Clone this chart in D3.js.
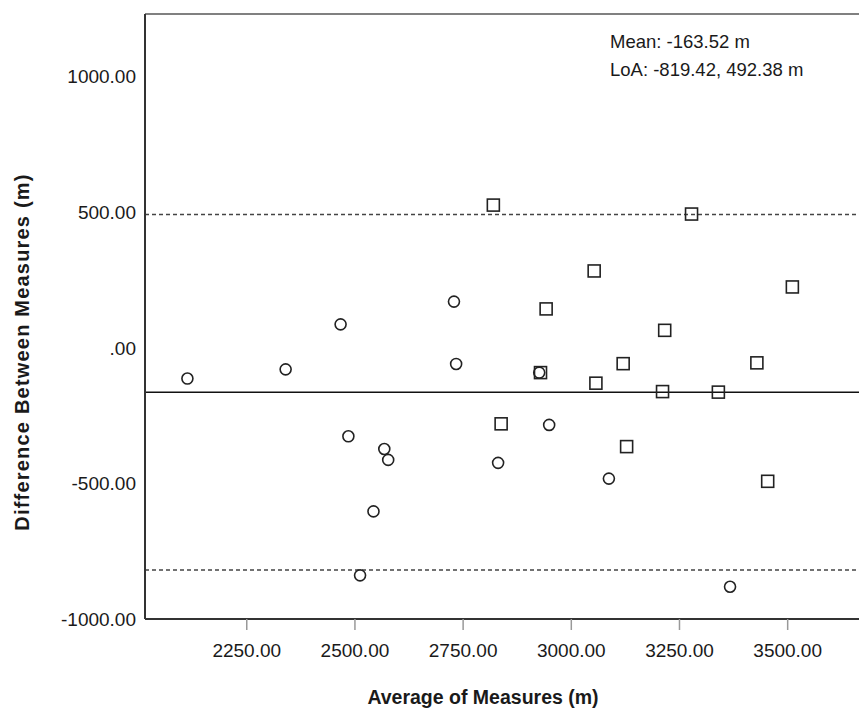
<!DOCTYPE html>
<html>
<head>
<meta charset="utf-8">
<script src="https://cdn.jsdelivr.net/npm/d3@7"></script>
<style>
  html, body { margin: 0; padding: 0; background: #fff; }
  svg { display: block; }
  text { font-family: "Liberation Sans", Arial, sans-serif; fill: #1a1a1a; }
</style>
</head>
<body>
<svg id="chart" width="859" height="717"></svg>
<script>
// ---- data ----
const circleAvg  = [2114, 2341, 2468, 2486, 2569, 2578, 2544, 2513, 2730, 2735, 2927, 2950, 2832, 3088, 3368];
const circleDiff = [-113, -79, 87, -326, -373, -413, -603, -839, 171, -59, -91, -284, -424, -482, -881];
const squareAvg  = [2821, 3279, 3054, 3512, 2943, 3217, 3121, 3430, 2930, 3058, 3212, 3341, 2839, 3129, 3455];
const squareDiff = [527, 494, 284, 225, 144, 65, -58, -55, -91, -130, -161, -163, -280, -364, -492];
const meanDiff = -163.52;
const loaLower = -819.42;
const loaUpper = 492.38;
const xTicks = [2250, 2500, 2750, 3000, 3250, 3500];
const xTickLabels = ["2250.00", "2500.00", "2750.00", "3000.00", "3250.00", "3500.00"];
const yTicks = [1000, 500, 0, -500, -1000];
const yTickLabels = ["1000.00", "500.00", ".00", "-500.00", "-1000.00"];
const annotation = ["Mean: -163.52 m", "LoA: -819.42, 492.38 m"];
const xTitle = "Average of Measures (m)";
const yTitle = "Difference Between Measures (m)";

// ---- layout ----
const svg = d3.select("#chart");
const L = 145, R = 859, T = 14, B = 619;
const x = d3.scaleLinear().domain([2016, 3666]).range([L, R]);
const y = d3.scaleLinear().domain([-1000, 1232]).range([B, T]);

// top border
svg.append("line").attr("x1", L).attr("x2", R).attr("y1", T).attr("y2", T)
  .attr("stroke", "#808080").attr("stroke-width", 2);

// reference lines
[loaUpper, loaLower].forEach(v => {
  svg.append("line").attr("x1", L).attr("x2", R).attr("y1", y(v)).attr("y2", y(v))
    .attr("stroke", "#444").attr("stroke-width", 1.5).attr("stroke-dasharray", "4,3");
});
svg.append("line").attr("x1", L).attr("x2", R).attr("y1", y(meanDiff)).attr("y2", y(meanDiff))
  .attr("stroke", "#111").attr("stroke-width", 1.6);

// x axis
const xAxis = d3.axisBottom(x).tickValues(xTicks).tickFormat((d, i) => xTickLabels[i])
  .tickSize(11).tickPadding(14);
const gx = svg.append("g").attr("transform", `translate(0,${B})`).call(xAxis);
gx.select(".domain").attr("stroke", "#333").attr("stroke-width", 2).attr("d", `M${L},0H${R}`);
gx.selectAll(".tick line").attr("stroke", "#999").attr("stroke-width", 1.5);
gx.selectAll(".tick text").style("font-size", "19px").attr("fill", "#1a1a1a")
  .style("font-family", '"Liberation Sans", Arial, sans-serif');

// y axis
const yAxis = d3.axisLeft(y).tickValues(yTicks).tickFormat((d, i) => yTickLabels[i])
  .tickSize(0).tickPadding(9);
const gy = svg.append("g").attr("transform", `translate(${L},0)`).call(yAxis);
gy.select(".domain").attr("stroke", "#333").attr("stroke-width", 2).attr("d", `M0,${T}V${B}`);
gy.selectAll(".tick text").style("font-size", "19px").attr("fill", "#1a1a1a")
  .style("font-family", '"Liberation Sans", Arial, sans-serif');

// markers
svg.append("g").selectAll("circle").data(circleAvg).join("circle")
  .attr("cx", (d) => x(d)).attr("cy", (d, i) => y(circleDiff[i])).attr("r", 5.5)
  .attr("fill", "none").attr("stroke", "#222").attr("stroke-width", 1.6);
const s = 12;
svg.append("g").selectAll("rect").data(squareAvg).join("rect")
  .attr("x", (d) => x(d) - s / 2).attr("y", (d, i) => y(squareDiff[i]) - s / 2)
  .attr("width", s).attr("height", s)
  .attr("fill", "none").attr("stroke", "#222").attr("stroke-width", 1.6);

// annotation
svg.append("g").selectAll("text").data(annotation).join("text")
  .attr("x", 610).attr("y", (d, i) => 48 + i * 28)
  .style("font-size", "18.5px").text(d => d);

// titles
svg.append("text").attr("x", 483).attr("y", 704).attr("text-anchor", "middle")
  .style("font-size", "19.5px").style("font-weight", "bold").text(xTitle);
svg.append("text").attr("transform", "translate(29,352) rotate(-90)").attr("text-anchor", "middle")
  .style("font-size", "20px").style("font-weight", "bold").style("letter-spacing", "1.2px").text(yTitle);
</script>
</body>
</html>
